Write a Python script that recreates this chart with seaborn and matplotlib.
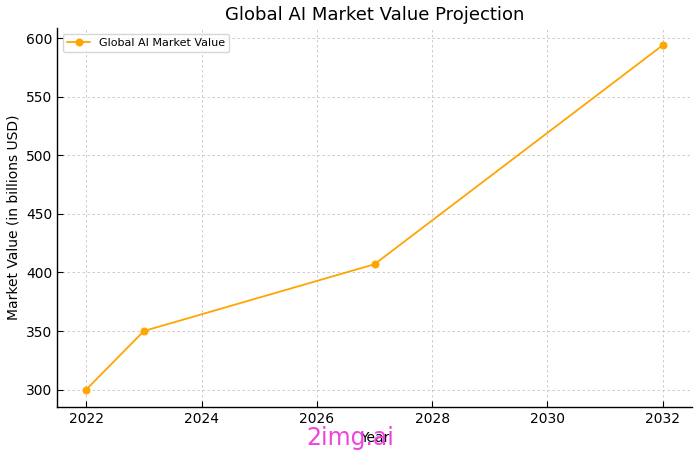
import matplotlib
matplotlib.use("Agg")
import matplotlib.pyplot as plt
import seaborn as sns
import pandas as pd

years = [2022, 2023, 2027, 2032]
values = [300, 350, 407, 594]

sns.set_style("whitegrid", {
    "axes.edgecolor": "black",
    "axes.labelcolor": "black",
    "text.color": "black",
    "xtick.direction": "in",
    "ytick.direction": "in",
    "xtick.bottom": True,
    "ytick.left": True,
})
plt.rcParams['font.family'] = ['DejaVu Sans']

df = pd.DataFrame({"Year": years, "Value": values})

fig, ax = plt.subplots(figsize=(7, 4.51), dpi=100)
sns.lineplot(data=df, x="Year", y="Value", marker="o", color="orange",
             markeredgecolor="orange", markersize=5, linewidth=1.3,
             label="Global AI Market Value", ax=ax)

ax.set_title("Global AI Market Value Projection", fontsize=13)
ax.set_xlabel("Year", fontsize=10)
ax.set_ylabel("Market Value (in billions USD)", fontsize=10)
ax.tick_params(labelsize=10, length=4, width=0.8, colors="black")
ax.grid(True, linestyle=(0, (3, 3)), linewidth=0.6, color="#c4c4c4")
for s in ("left", "bottom"):
    ax.spines[s].set_linewidth(1.0)
sns.despine(ax=ax)
ax.legend(loc="upper left", fontsize=8, frameon=True, fancybox=True)

fig.subplots_adjust(left=0.082, right=0.988, top=0.938, bottom=0.098)
# watermark, overlapping the x label as in the reference
fig.text(0.5, 0.028, "2img.ai", color="#ee44dd", fontsize=17, ha="center", va="center")

fig.savefig("out.png", dpi=100)
